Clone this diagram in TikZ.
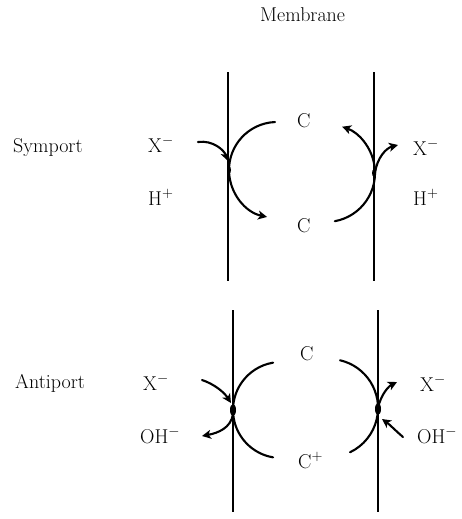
\documentclass[tikz,border=0pt]{standalone}
\usetikzlibrary{arrows.meta}
\begin{document}
\begin{tikzpicture}[x=1pt,y=-1pt,
  lbl/.style={anchor=base west,inner sep=0pt,font=\fontsize{20}{24}\selectfont},
  memb/.style={line width=1.3pt},
  flow/.style={line width=2.1pt,line cap=round},
  arr/.style={flow,-{Stealth[length=9pt,width=9pt,inset=2.5pt]}}]
\useasboundingbox (0,0) rectangle (461,519);
% labels
\node[lbl] (mem) at (260,22) {Membrane};
\node[lbl] (sym) at (13,152) {Symport};
\node[lbl] (anti) at (15,388) {Antiport};
\node[lbl] (xl1) at (148,152) {X$^-$};
\node[lbl] (hl1) at (148,205) {H$^+$};
\node[lbl] (xr1) at (413,155) {X$^-$};
\node[lbl] (hr1) at (413,205) {H$^+$};
\node[lbl] (ct1) at (297,127) {C};
\node[lbl] (cb1) at (297,232) {C};
\node[lbl] (xl2) at (143,390) {X$^-$};
\node[lbl] (ohl2) at (140,443) {OH$^-$};
\node[lbl] (xr2) at (420,391) {X$^-$};
\node[lbl] (ohr2) at (417,443) {OH$^-$};
\node[lbl] (ct2) at (300,360) {C};
\node[lbl] (cb2) at (298,468) {C$^+$};
% membranes
\coordinate (m1t) at (228,72);  \coordinate (m1b) at (228,281);
\coordinate (m2t) at (374,72);  \coordinate (m2b) at (374,281);
\coordinate (m3t) at (233,310); \coordinate (m3b) at (233,512);
\coordinate (m4t) at (378,310); \coordinate (m4b) at (378,512);
\draw[memb] (m1t) -- (m1b);
\draw[memb] (m2t) -- (m2b);
\draw[memb] (m3t) -- (m3b);
\draw[memb] (m4t) -- (m4b);
% symport
\coordinate (s1c) at (277,170);
\coordinate (s2c) at (326,173);
\draw[arr] (s1c) ++(267.6:48) arc[start angle=267.6,end angle=102,radius=48];
\draw[arr] (s2c) ++(79.6:49) arc[start angle=79.6,end angle=-70.8,radius=49];
\coordinate (xin1) at (198,142); \coordinate (xin1e) at (228,161);
\draw[arr] (xin1) .. controls (213,140) and (224,150) .. (xin1e);
\coordinate (xout1) at (375,173); \coordinate (xout1e) at (398,145);
\draw[arr] (xout1) .. controls (377,158) and (386,148) .. (xout1e);
\fill (229,170) ellipse[x radius=2pt,y radius=4pt];
\fill (374,173) ellipse[x radius=2pt,y radius=4pt];
% antiport
\coordinate (a1c) at (281,410);
\coordinate (a2c) at (329,408);
\draw[flow] (a1c) ++(260.5:48) arc[start angle=260.5,end angle=99.5,radius=48];
\draw[flow] (a2c) ++(-77:49) arc[start angle=-77,end angle=64.5,radius=49];
\coordinate (xin2) at (202,380); \coordinate (xin2e) at (231,403);
\draw[arr] (xin2) .. controls (214,384) and (224,392) .. (xin2e);
\coordinate (ohout2) at (233,414); \coordinate (ohout2e) at (202,436);
\draw[arr] (ohout2) .. controls (231,428) and (218,433) .. (ohout2e);
\coordinate (xout2) at (378,408); \coordinate (xout2e) at (397,382);
\draw[arr] (xout2) .. controls (381,394) and (389,386) .. (xout2e);
\coordinate (ohin2) at (403,437); \coordinate (ohin2e) at (382,419);
\draw[arr] (ohin2) .. controls (396,431) and (389,424) .. (ohin2e);
\fill (233,410) ellipse[x radius=3pt,y radius=6pt];
\fill (378,409) ellipse[x radius=3pt,y radius=6pt];
\end{tikzpicture}
\end{document}
